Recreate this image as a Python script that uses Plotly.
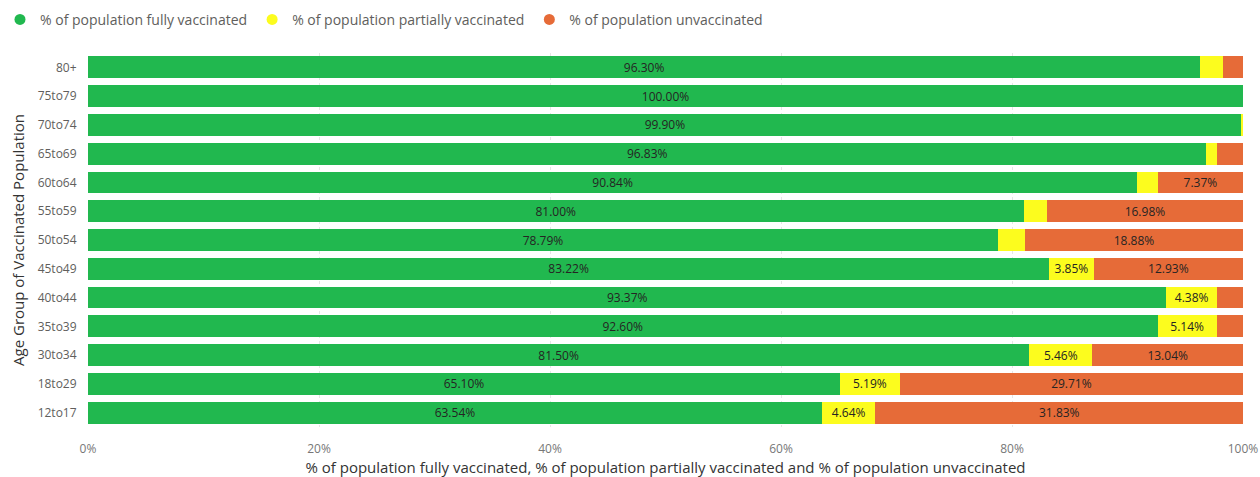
import plotly.graph_objects as go

age_groups = ["80+", "75to79", "70to74", "65to69", "60to64", "55to59", "50to54",
              "45to49", "40to44", "35to39", "30to34", "18to29", "12to17"]
fully = [96.30, 100.00, 99.90, 96.83, 90.84, 81.00, 78.79, 83.22, 93.37, 92.60, 81.50, 65.10, 63.54]
partial = [1.99, 0.00, 0.10, 0.95, 1.79, 2.02, 2.33, 3.85, 4.38, 5.14, 5.46, 5.19, 4.64]
unvax = [1.71, 0.00, 0.00, 2.22, 7.37, 16.98, 18.88, 12.93, 2.25, 2.26, 13.04, 29.71, 31.83]
x_ticks = [0, 20, 40, 60, 80, 100]
x_tick_labels = ["0%", "20%", "40%", "60%", "80%", "100%"]

series = [
    ("% of population fully vaccinated", fully, "#21B84F"),
    ("% of population partially vaccinated", partial, "#FCFC1E"),
    ("% of population unvaccinated", unvax, "#E66B38"),
]

FONT = "Open Sans"

def labels(vals):
    return [f"{v:.2f}%" if v >= 3.5 else "" for v in vals]

fig = go.Figure()
for name, vals, color in series:
    fig.add_trace(go.Bar(
        y=age_groups, x=vals, orientation="h", name=name,
        marker=dict(color=color, line=dict(width=0)),
        text=labels(vals), textposition="inside", insidetextanchor="middle",
        textangle=0, constraintext="none",
        textfont=dict(family=FONT, size=12, color="#252423"),
        showlegend=False, hoverinfo="x+y+name",
    ))
for name, vals, color in series:
    fig.add_trace(go.Scatter(
        x=[None], y=[None], mode="markers", name=name,
        marker=dict(symbol="circle", size=11, color=color),
        showlegend=True,
    ))

fig.update_layout(
    barmode="stack",
    bargap=0.24,
    width=1260, height=477,
    margin=dict(l=88, r=17, t=53, b=50),
    plot_bgcolor="white", paper_bgcolor="white",
    font=dict(family=FONT, size=12, color="#605E5C"),
    legend=dict(orientation="h", traceorder="normal",
                x=0.0, xanchor="left", xref="container",
                y=0.992, yanchor="top", yref="container",
                itemwidth=30, tracegroupgap=0,
                font=dict(family=FONT, size=14, color="#605E5C")),
    xaxis=dict(range=[0, 100], tickvals=x_ticks, ticktext=x_tick_labels,
               automargin=False,
               showgrid=True, gridcolor="#E6E6E6", griddash="dot", gridwidth=1,
               zeroline=False, showline=False, ticks="outside", ticklen=11, tickcolor="white",
               tickfont=dict(family=FONT, size=12, color="#777777"),
               title=dict(text="% of population fully vaccinated, % of population partially vaccinated and % of population unvaccinated",
                          font=dict(family=FONT, size=15, color="#333333"), standoff=4)),
    yaxis=dict(autorange="reversed", showgrid=False, zeroline=False, showline=False,
               automargin=False, ticks="outside", ticklen=8, tickcolor="white",
               tickfont=dict(family=FONT, size=12, color="#605E5C"),
               title=dict(text="Age Group of Vaccinated Population",
                          font=dict(family=FONT, size=15, color="#333333"), standoff=9)),
)

fig.write_html("out.html", config={"displayModeBar": False},
               post_script="document.body.style.margin='0';document.body.style.overflow='hidden';")
